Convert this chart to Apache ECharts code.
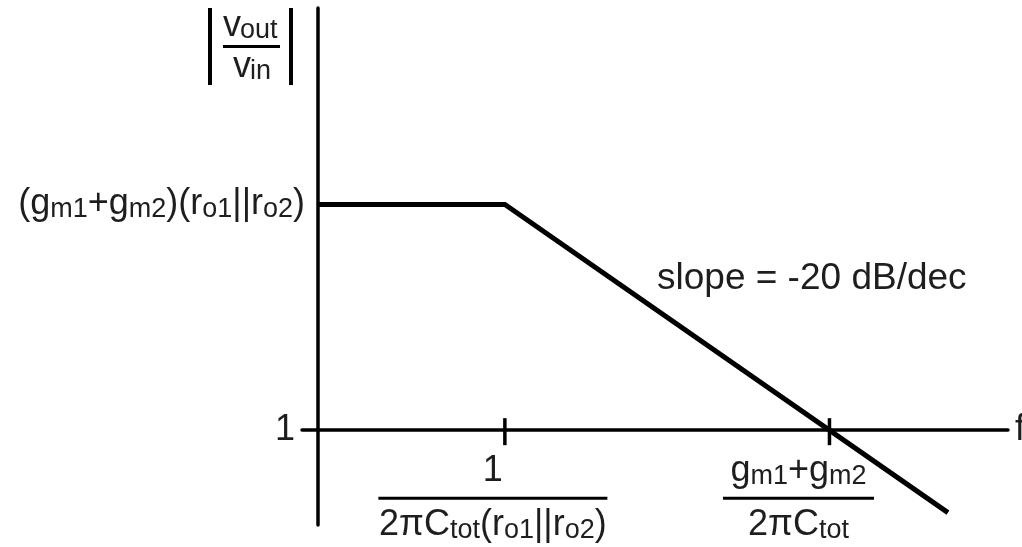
<!DOCTYPE html>
<html>
<head>
<meta charset="utf-8">
<script src="https://cdn.jsdelivr.net/npm/echarts@6/dist/echarts.min.js"></script>
<style>
  html, body { margin: 0; padding: 0; background: #fff; }
  #chart { width: 1022px; height: 547px; }
</style>
</head>
<body>
<div id="chart"></div>
<script>
// Asymptotic Bode magnitude plot; both axes are in decades (log10).
// Frequency is normalised to the dominant pole, gain to unity.
const freqDecades = [-1.15, 0, 2.73];      // log10(f / p1) along the asymptote
const gainDecades = [2, 2, -0.73];         // log10 |vout/vin| along the asymptote
const freqTickDecades = [0, 2];            // dominant pole, unity-gain frequency
const gainTickDecades = [0, 2];            // unity gain, low-frequency gain

const freqTickLabels = [
  '{m|1}\n{bar1| }\n{m|2π}{m|C}{s|tot}{m|(r}{s|o1}{m|||r}{s|o2}{m|)}',
  '{m|g}{s|m1}{m|+g}{s|m2}\n{bar2| }\n{m|2πC}{s|tot}'
];
const gainTickLabels = [
  '{one|1}',
  '{m|(g}{s|m1}{m|+g}{s|m2}{m|)(r}{s|o1}{m|||r}{s|o2}{m|)}'
];
const gainAxisName =
  '{vb| }{sp11| }{v|v}{vsub1|out}{vb| }\n' +
  '{hb2| }{sp11| }{hb| }{sp9| }{hb2| }\n' +
  '{vb| }{sp21| }{v|v}{vsub2|in}{vb| }';
const slopeText = 'slope = -20 dB/dec';

const FONT = '"Liberation Sans", Arial, Helvetica, sans-serif';
const INK = '#1e1e1e';
const MAIN = 36, SUB = 27;

const textRich = {
  m:   { fontFamily: FONT, fontSize: MAIN, color: INK, lineHeight: 40, align: 'center' },
  s:   { fontFamily: FONT, fontSize: SUB, color: INK, lineHeight: 40, align: 'center', padding: [11, 0, 0, 0] },
  one: { fontFamily: FONT, fontSize: MAIN, color: INK, lineHeight: 40, padding: [0, 10, 0, 0] },
  bar1: { width: 229, height: 3, lineHeight: 14, backgroundColor: '#000', fontSize: 1, align: 'center' },
  bar2: { width: 151, height: 3, lineHeight: 14, backgroundColor: '#000', fontSize: 1, align: 'center' }
};

const nameRich = {
  vb:   { width: 4, height: 36, lineHeight: 36, backgroundColor: '#000', fontSize: 1, align: 'left' },
  hb2:  { width: 4, height: 5, lineHeight: 5, backgroundColor: '#000', fontSize: 1, align: 'left' },
  sp11: { width: 11, fontSize: 1, align: 'left' },
  sp21: { width: 21, fontSize: 1, align: 'left' },
  sp9:  { width: 9, fontSize: 1, align: 'left' },
  hb:   { width: 57, height: 3, lineHeight: 5, backgroundColor: '#000', fontSize: 1, align: 'left' },
  v:    { width: 17, fontFamily: FONT, fontSize: MAIN, color: INK, lineHeight: 36, align: 'left' },
  vsub1:{ width: 49, fontFamily: FONT, fontSize: SUB, color: INK, lineHeight: 36, align: 'left', padding: [10, 0, 0, 0] },
  vsub2:{ width: 39, fontFamily: FONT, fontSize: SUB, color: INK, lineHeight: 36, align: 'left', padding: [10, 0, 0, 0] }
};

const chart = echarts.init(document.getElementById('chart'), null, { renderer: 'canvas' });

chart.setOption({
  animation: false,
  backgroundColor: '#fff',
  grid: { left: 302, right: 14, top: 8, bottom: 22, outerBoundsMode: 'none', containLabel: false },
  xAxis: {
    type: 'value',
    min: -1.25,
    max: 3.1,
    axisLine: { show: true, onZero: true, lineStyle: { color: '#000', width: 3.5 } },
    axisTick: { show: false },
    axisLabel: { show: false },
    splitLine: { show: false },
    name: 'f',
    nameLocation: 'end',
    nameGap: 7,
    nameTextStyle: { fontFamily: FONT, fontSize: MAIN, color: INK }
  },
  yAxis: {
    type: 'value',
    min: -0.84,
    max: 3.74,
    offset: -16,
    axisLine: { show: true, onZero: false, lineStyle: { color: '#000', width: 3.5 } },
    axisTick: { show: false },
    splitLine: { show: false },
    axisLabel: {
      customValues: gainTickDecades,
      margin: 13,
      formatter: function (value) {
        const i = gainTickDecades.indexOf(value);
        return i >= 0 ? gainTickLabels[i] : '';
      },
      rich: textRich
    },
    name: gainAxisName,
    nameLocation: 'end',
    nameGap: 0,
    nameTextStyle: {
      align: 'right',
      verticalAlign: 'top',
      padding: [0, 25, 0, 0],
      rich: nameRich
    }
  },
  graphic: [{
    type: 'text',
    left: 657,
    top: 260,
    style: { text: slopeText, font: '37px ' + FONT, fill: INK }
  }],
  series: [
    {
      type: 'line',
      data: freqDecades.map((x, i) => [x, gainDecades[i]]),
      showSymbol: false,
      symbol: 'none',
      lineStyle: { color: '#000', width: 5, join: 'miter' },
      z: 3
    },
    {
      type: 'scatter',
      data: freqTickDecades.map((x, i) => ({
        value: [x, 0],
        label: { offset: i === 0 ? [-12, 0] : [-31, 0] }
      })),
      symbol: 'rect',
      symbolSize: [3.5, 27],
      symbolOffset: [0, 1.5],
      itemStyle: { color: '#000', opacity: 1 },
      label: {
        show: true,
        position: 'bottom',
        distance: 6,
        formatter: function (p) { return freqTickLabels[p.dataIndex]; },
        rich: textRich
      },
      emphasis: { disabled: true },
      z: 4
    }
  ]
});
</script>
</body>
</html>
